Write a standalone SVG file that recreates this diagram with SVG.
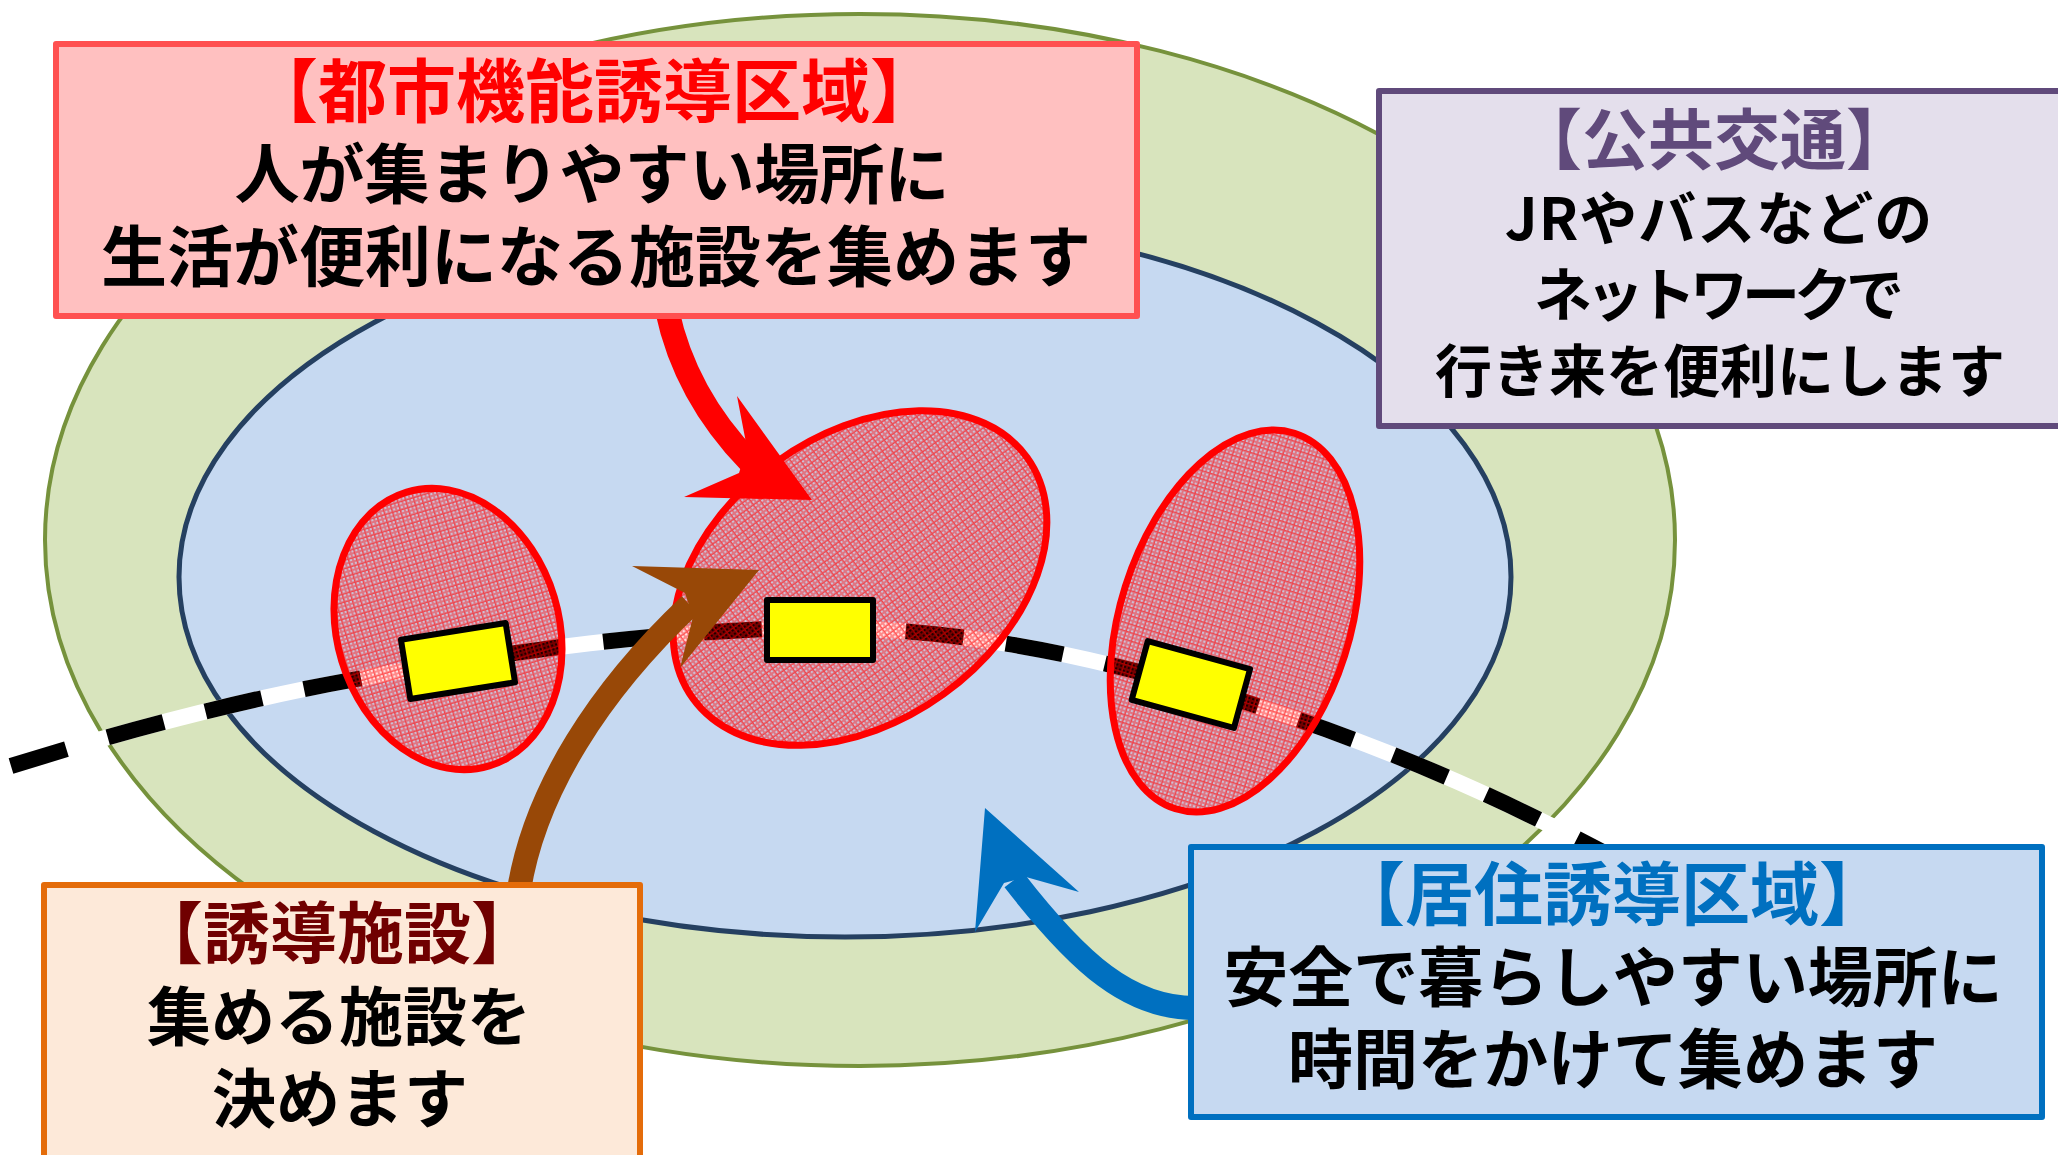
<svg xmlns="http://www.w3.org/2000/svg" width="2058" height="1155" viewBox="0 0 2058 1155">
<style>
text{font-family:"Noto Sans CJK JP","Noto Sans CJK SC",sans-serif;font-weight:700;text-anchor:middle;fill:#000}
.box{stroke-width:6;stroke-linejoin:round}
.zone{fill:url(#hatch);stroke:#f00;stroke-width:7}
.st{fill:#ff0;stroke:#000;stroke-width:6;stroke-linejoin:round}
.shaft{fill:none;stroke-width:24}
</style>
<defs>
<pattern id="hatch" width="8" height="8" patternUnits="userSpaceOnUse">
<path d="M0,0h8v8h-8zM1,1v2h2v-2zM5,1v2h2v-2zM1,5v2h2v-2zM5,5v2h2v-2z" fill="#f00" fill-opacity=".46" fill-rule="evenodd"/>
<path d="M1,1h2v2h-2zM5,1h2v2h-2zM1,5h2v2h-2zM5,5h2v2h-2z" fill="#f00" fill-opacity=".12"/>
<path d="M0,0h8v1h-8zM0,1h1v7h-1z" fill="#f00" fill-opacity=".4"/>
</pattern>
</defs>
<rect width="2058" height="1155" fill="#fff"/>
<g id="outer-area"><ellipse cx="860" cy="540" rx="815" ry="526" fill="#d8e4bd" stroke="#76923c" stroke-width="4"/></g>
<g id="inner-area"><ellipse cx="845" cy="577" rx="666" ry="360" fill="#c6d9f1" stroke="#254061" stroke-width="5"/></g>
<g id="railway" fill="none" stroke-width="16">
<path d="M11,766 C120,732 240,700 357,679 C500,652 680,628 820,628 C980,628 1120,664 1245,702 C1370,742 1490,790 1640,872" stroke="#fff"/>
<path d="M11,766 C120,732 240,700 357,679 C500,652 680,628 820,628 C980,628 1120,664 1245,702 C1370,742 1490,790 1640,872" stroke="#000" stroke-dasharray="58 43"/>
</g>
<g id="zone-left"><ellipse cx="448" cy="629" rx="143" ry="111" transform="rotate(73.2 448 629)" class="zone"/></g>
<g id="zone-center"><ellipse cx="860" cy="578" rx="206" ry="143" transform="rotate(-35.8 860 578)" class="zone"/></g>
<g id="zone-right"><ellipse cx="1235" cy="621" rx="197" ry="115" transform="rotate(-72.4 1235 621)" class="zone"/></g>
<g id="station-left"><rect x="405" y="631" width="106" height="60" transform="rotate(-9 458 661)" class="st"/></g>
<g id="station-center"><rect x="767" y="600" width="106" height="60" class="st"/></g>
<g id="station-right"><rect x="1138" y="654" width="106" height="61" transform="rotate(15.3 1191 684)" class="st"/></g>
<g id="connectors">
<path class="shaft" stroke="#f00" d="M667,310 Q685,395 750,462"/>
<polygon fill="#f00" points="812,500 737,396 747,448 739,473 684,497"/>
<path class="shaft" stroke="#984807" d="M519,890 C535,790 600,690 690,605"/>
<polygon fill="#984807" points="759,570 632,566 685,593 693,617 680,668"/>
<path class="shaft" stroke="#0070c0" d="M1195,1008 C1130,1008 1080,965 1014,880"/>
<polygon fill="#0070c0" points="985,808 1079,892 1026,877 1004,883 975,932"/>
</g>
<g id="box-urban">
<rect x="56" y="44" width="1081" height="272" class="box" fill="#ffc0c0" stroke="#ff5050"/>
<text x="594" y="117" font-size="69" style="fill:#f00">【都市機能誘導区域】</text>
<text x="592" y="198" font-size="65">人が集まりやすい場所に</text>
<text x="596" y="281" font-size="66">生活が便利になる施設を集めます</text>
</g>
<g id="box-transit">
<rect x="1379" y="91" width="690" height="335" class="box" fill="#e4dfec" stroke="#604a7b"/>
<text x="1714" y="164" font-size="66" style="fill:#604a7b">【公共交通】</text>
<text x="1719" y="240" font-size="58" letter-spacing="1">JRやバスなどの</text>
<text x="1716" y="316" font-size="58" letter-spacing="-6">ネットワークで</text>
<text x="1720" y="392" font-size="57">行き来を便利にします</text>
</g>
<g id="box-facility">
<rect x="44" y="885" width="596" height="290" class="box" fill="#fde9d9" stroke="#e46c0a"/>
<text x="337" y="958" font-size="67" style="fill:#700000">【誘導施設】</text>
<text x="339" y="1040" font-size="64">集める施設を</text>
<text x="340" y="1122" font-size="64">決めます</text>
</g>
<g id="box-residential">
<rect x="1191" y="847" width="851" height="270" class="box" fill="#c6d9f1" stroke="#0070c0"/>
<text x="1612" y="920" font-size="69" style="fill:#0070c0">【居住誘導区域】</text>
<text x="1613" y="1001" font-size="65">安全で暮らしやすい場所に</text>
<text x="1613" y="1083" font-size="65">時間をかけて集めます</text>
</g>
</svg>
